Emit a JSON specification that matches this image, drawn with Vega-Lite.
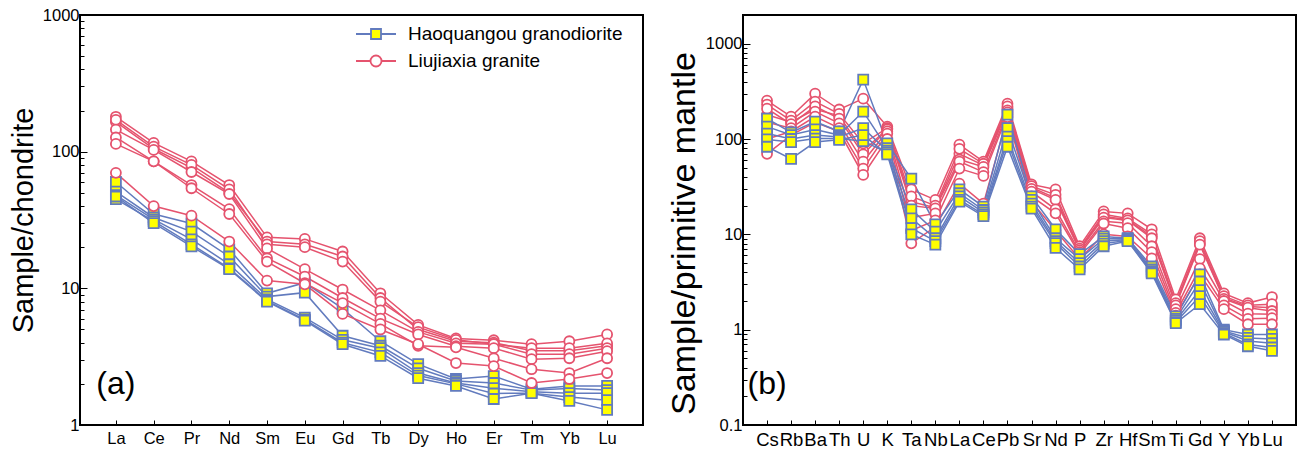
{
"$schema":"https://vega.github.io/schema/vega-lite/v6.json",
"background":"white",
"padding":{"left":8,"top":6,"right":6,"bottom":4},
"spacing":22,
"resolve":{"scale":{"fill":"independent","stroke":"independent","color":"independent","shape":"independent","x":"independent","y":"independent"},"legend":{"fill":"independent","stroke":"independent","color":"independent","shape":"independent"}},
"config":{"font":"Liberation Sans","view":{"stroke":"black","strokeWidth":2},
"axis":{"grid":false,"domain":false,"tickColor":"black","labelColor":"black","titleColor":"black","titleFontWeight":"normal","labelOverlap":false,"labelBound":false,"labelFlush":false},
"legend":{"orient":"none","title":null,"padding":0,"labelFontSize":19,"labelLimit":400,"symbolSize":400,"symbolStrokeWidth":1.8,"labelOffset":21,"labelColor":"black"}},
"datasets":{
"a":[
{"s":"B1","g":"H","e":"La","v":60},{"s":"B1","g":"H","e":"Ce","v":35},{"s":"B1","g":"H","e":"Pr","v":29.8},{"s":"B1","g":"H","e":"Nd","v":19.3},{"s":"B1","g":"H","e":"Sm","v":9.2},{"s":"B1","g":"H","e":"Eu","v":11},{"s":"B1","g":"H","e":"Gd","v":7.1},{"s":"B1","g":"H","e":"Tb","v":4.1},{"s":"B1","g":"H","e":"Dy","v":2.79},{"s":"B1","g":"H","e":"Ho","v":2.17},{"s":"B1","g":"H","e":"Er","v":2.28},{"s":"B1","g":"H","e":"Tm","v":1.83},{"s":"B1","g":"H","e":"Yb","v":1.93},{"s":"B1","g":"H","e":"Lu","v":1.93},
{"s":"B2","g":"H","e":"La","v":51},{"s":"B2","g":"H","e":"Ce","v":33},{"s":"B2","g":"H","e":"Pr","v":26},{"s":"B2","g":"H","e":"Nd","v":17.1},{"s":"B2","g":"H","e":"Sm","v":8.7},{"s":"B2","g":"H","e":"Eu","v":9.3},{"s":"B2","g":"H","e":"Gd","v":4.5},{"s":"B2","g":"H","e":"Tb","v":3.8},{"s":"B2","g":"H","e":"Dy","v":2.6},{"s":"B2","g":"H","e":"Ho","v":2.1},{"s":"B2","g":"H","e":"Er","v":2.03},{"s":"B2","g":"H","e":"Tm","v":1.8},{"s":"B2","g":"H","e":"Yb","v":1.85},{"s":"B2","g":"H","e":"Lu","v":1.8},
{"s":"B3","g":"H","e":"La","v":48},{"s":"B3","g":"H","e":"Ce","v":32},{"s":"B3","g":"H","e":"Pr","v":22.8},{"s":"B3","g":"H","e":"Nd","v":15},{"s":"B3","g":"H","e":"Sm","v":8.3},{"s":"B3","g":"H","e":"Eu","v":6.1},{"s":"B3","g":"H","e":"Gd","v":4.2},{"s":"B3","g":"H","e":"Tb","v":3.65},{"s":"B3","g":"H","e":"Dy","v":2.4},{"s":"B3","g":"H","e":"Ho","v":2.03},{"s":"B3","g":"H","e":"Er","v":1.86},{"s":"B3","g":"H","e":"Tm","v":1.75},{"s":"B3","g":"H","e":"Yb","v":1.71},{"s":"B3","g":"H","e":"Lu","v":1.71},
{"s":"B4","g":"H","e":"La","v":45},{"s":"B4","g":"H","e":"Ce","v":31},{"s":"B4","g":"H","e":"Pr","v":21},{"s":"B4","g":"H","e":"Nd","v":14},{"s":"B4","g":"H","e":"Sm","v":8.1},{"s":"B4","g":"H","e":"Eu","v":5.9},{"s":"B4","g":"H","e":"Gd","v":4.0},{"s":"B4","g":"H","e":"Tb","v":3.4},{"s":"B4","g":"H","e":"Dy","v":2.3},{"s":"B4","g":"H","e":"Ho","v":2.0},{"s":"B4","g":"H","e":"Er","v":1.7},{"s":"B4","g":"H","e":"Tm","v":1.71},{"s":"B4","g":"H","e":"Yb","v":1.6},{"s":"B4","g":"H","e":"Lu","v":1.52},
{"s":"B5","g":"H","e":"La","v":47},{"s":"B5","g":"H","e":"Ce","v":30},{"s":"B5","g":"H","e":"Pr","v":20.3},{"s":"B5","g":"H","e":"Nd","v":13.8},{"s":"B5","g":"H","e":"Sm","v":8.0},{"s":"B5","g":"H","e":"Eu","v":5.8},{"s":"B5","g":"H","e":"Gd","v":3.9},{"s":"B5","g":"H","e":"Tb","v":3.2},{"s":"B5","g":"H","e":"Dy","v":2.2},{"s":"B5","g":"H","e":"Ho","v":1.93},{"s":"B5","g":"H","e":"Er","v":1.55},{"s":"B5","g":"H","e":"Tm","v":1.71},{"s":"B5","g":"H","e":"Yb","v":1.5},{"s":"B5","g":"H","e":"Lu","v":1.29},
{"s":"R1","g":"L","e":"La","v":180},{"s":"R1","g":"L","e":"Ce","v":116},{"s":"R1","g":"L","e":"Pr","v":85},{"s":"R1","g":"L","e":"Nd","v":57},{"s":"R1","g":"L","e":"Sm","v":23.6},{"s":"R1","g":"L","e":"Eu","v":23},{"s":"R1","g":"L","e":"Gd","v":18.6},{"s":"R1","g":"L","e":"Tb","v":9.2},{"s":"R1","g":"L","e":"Dy","v":5.4},{"s":"R1","g":"L","e":"Ho","v":4.3},{"s":"R1","g":"L","e":"Er","v":4.17},{"s":"R1","g":"L","e":"Tm","v":3.9},{"s":"R1","g":"L","e":"Yb","v":4.1},{"s":"R1","g":"L","e":"Lu","v":4.6},
{"s":"R7","g":"L","e":"La","v":165},{"s":"R7","g":"L","e":"Ce","v":105},{"s":"R7","g":"L","e":"Pr","v":76},{"s":"R7","g":"L","e":"Nd","v":50},{"s":"R7","g":"L","e":"Sm","v":22},{"s":"R7","g":"L","e":"Eu","v":21},{"s":"R7","g":"L","e":"Gd","v":17.1},{"s":"R7","g":"L","e":"Tb","v":8.5},{"s":"R7","g":"L","e":"Dy","v":5.0},{"s":"R7","g":"L","e":"Ho","v":4.1},{"s":"R7","g":"L","e":"Er","v":4.0},{"s":"R7","g":"L","e":"Tm","v":3.5},{"s":"R7","g":"L","e":"Yb","v":3.5},{"s":"R7","g":"L","e":"Lu","v":3.8},
{"s":"R2","g":"L","e":"La","v":171},{"s":"R2","g":"L","e":"Ce","v":109},{"s":"R2","g":"L","e":"Pr","v":80},{"s":"R2","g":"L","e":"Nd","v":53},{"s":"R2","g":"L","e":"Sm","v":21},{"s":"R2","g":"L","e":"Eu","v":20},{"s":"R2","g":"L","e":"Gd","v":15.7},{"s":"R2","g":"L","e":"Tb","v":8.0},{"s":"R2","g":"L","e":"Dy","v":5.2},{"s":"R2","g":"L","e":"Ho","v":4.2},{"s":"R2","g":"L","e":"Er","v":3.9},{"s":"R2","g":"L","e":"Tm","v":3.65},{"s":"R2","g":"L","e":"Yb","v":3.65},{"s":"R2","g":"L","e":"Lu","v":3.96},
{"s":"R3","g":"L","e":"La","v":145},{"s":"R3","g":"L","e":"Ce","v":103},{"s":"R3","g":"L","e":"Pr","v":71},{"s":"R3","g":"L","e":"Nd","v":49},{"s":"R3","g":"L","e":"Sm","v":19.6},{"s":"R3","g":"L","e":"Eu","v":13.8},{"s":"R3","g":"L","e":"Gd","v":9.8},{"s":"R3","g":"L","e":"Tb","v":6.9},{"s":"R3","g":"L","e":"Dy","v":4.8},{"s":"R3","g":"L","e":"Ho","v":3.96},{"s":"R3","g":"L","e":"Er","v":3.9},{"s":"R3","g":"L","e":"Tm","v":3.3},{"s":"R3","g":"L","e":"Yb","v":3.3},{"s":"R3","g":"L","e":"Lu","v":3.65},
{"s":"R4","g":"L","e":"La","v":127},{"s":"R4","g":"L","e":"Ce","v":85},{"s":"R4","g":"L","e":"Pr","v":57},{"s":"R4","g":"L","e":"Nd","v":38},{"s":"R4","g":"L","e":"Sm","v":16.6},{"s":"R4","g":"L","e":"Eu","v":12.2},{"s":"R4","g":"L","e":"Gd","v":8.5},{"s":"R4","g":"L","e":"Tb","v":6.0},{"s":"R4","g":"L","e":"Dy","v":4.6},{"s":"R4","g":"L","e":"Ho","v":3.77},{"s":"R4","g":"L","e":"Er","v":3.65},{"s":"R4","g":"L","e":"Tm","v":3.03},{"s":"R4","g":"L","e":"Yb","v":3.08},{"s":"R4","g":"L","e":"Lu","v":3.47},
{"s":"R5","g":"L","e":"La","v":114},{"s":"R5","g":"L","e":"Ce","v":85},{"s":"R5","g":"L","e":"Pr","v":54},{"s":"R5","g":"L","e":"Nd","v":35},{"s":"R5","g":"L","e":"Sm","v":15.7},{"s":"R5","g":"L","e":"Eu","v":10.9},{"s":"R5","g":"L","e":"Gd","v":7.8},{"s":"R5","g":"L","e":"Tb","v":5.5},{"s":"R5","g":"L","e":"Dy","v":3.8},{"s":"R5","g":"L","e":"Ho","v":3.7},{"s":"R5","g":"L","e":"Er","v":3.08},{"s":"R5","g":"L","e":"Tm","v":2.56},{"s":"R5","g":"L","e":"Yb","v":2.4},{"s":"R5","g":"L","e":"Lu","v":3.08},
{"s":"R6","g":"L","e":"La","v":70},{"s":"R6","g":"L","e":"Ce","v":40},{"s":"R6","g":"L","e":"Pr","v":34},{"s":"R6","g":"L","e":"Nd","v":22},{"s":"R6","g":"L","e":"Sm","v":11.4},{"s":"R6","g":"L","e":"Eu","v":10.7},{"s":"R6","g":"L","e":"Gd","v":6.5},{"s":"R6","g":"L","e":"Tb","v":5.0},{"s":"R6","g":"L","e":"Dy","v":3.9},{"s":"R6","g":"L","e":"Ho","v":2.84},{"s":"R6","g":"L","e":"Er","v":2.7},{"s":"R6","g":"L","e":"Tm","v":2.03},{"s":"R6","g":"L","e":"Yb","v":2.17},{"s":"R6","g":"L","e":"Lu","v":2.4}
],
"b":[
{"s":"R1","g":"L","e":"Cs","v":253},{"s":"R1","g":"L","e":"Rb","v":172},{"s":"R1","g":"L","e":"Ba","v":299},{"s":"R1","g":"L","e":"Th","v":204},{"s":"R1","g":"L","e":"U","v":265},{"s":"R1","g":"L","e":"K","v":135},{"s":"R1","g":"L","e":"Ta","v":29.6},{"s":"R1","g":"L","e":"Nb","v":23},{"s":"R1","g":"L","e":"La","v":87.5},{"s":"R1","g":"L","e":"Ce","v":58},{"s":"R1","g":"L","e":"Pb","v":235},{"s":"R1","g":"L","e":"Sr","v":33.4},{"s":"R1","g":"L","e":"Nd","v":29.6},{"s":"R1","g":"L","e":"P","v":7.5},{"s":"R1","g":"L","e":"Zr","v":17.4},{"s":"R1","g":"L","e":"Hf","v":16.6},{"s":"R1","g":"L","e":"Sm","v":11.3},{"s":"R1","g":"L","e":"Ti","v":2.08},{"s":"R1","g":"L","e":"Gd","v":9.1},{"s":"R1","g":"L","e":"Y","v":2.4},{"s":"R1","g":"L","e":"Yb","v":1.9},{"s":"R1","g":"L","e":"Lu","v":2.2},
{"s":"R7","g":"L","e":"Cs","v":180},{"s":"R7","g":"L","e":"Rb","v":150},{"s":"R7","g":"L","e":"Ba","v":205},{"s":"R7","g":"L","e":"Th","v":175},{"s":"R7","g":"L","e":"U","v":75},{"s":"R7","g":"L","e":"K","v":128},{"s":"R7","g":"L","e":"Ta","v":22},{"s":"R7","g":"L","e":"Nb","v":19},{"s":"R7","g":"L","e":"La","v":70},{"s":"R7","g":"L","e":"Ce","v":53},{"s":"R7","g":"L","e":"Pb","v":210},{"s":"R7","g":"L","e":"Sr","v":31},{"s":"R7","g":"L","e":"Nd","v":24},{"s":"R7","g":"L","e":"P","v":7.0},{"s":"R7","g":"L","e":"Zr","v":15.5},{"s":"R7","g":"L","e":"Hf","v":14.2},{"s":"R7","g":"L","e":"Sm","v":9.5},{"s":"R7","g":"L","e":"Ti","v":1.85},{"s":"R7","g":"L","e":"Gd","v":8.0},{"s":"R7","g":"L","e":"Y","v":2.15},{"s":"R7","g":"L","e":"Yb","v":1.75},{"s":"R7","g":"L","e":"Lu","v":1.7},
{"s":"R2","g":"L","e":"Cs","v":230},{"s":"R2","g":"L","e":"Rb","v":156},{"s":"R2","g":"L","e":"Ba","v":247},{"s":"R2","g":"L","e":"Th","v":184},{"s":"R2","g":"L","e":"U","v":90},{"s":"R2","g":"L","e":"K","v":130},{"s":"R2","g":"L","e":"Ta","v":25},{"s":"R2","g":"L","e":"Nb","v":20},{"s":"R2","g":"L","e":"La","v":79},{"s":"R2","g":"L","e":"Ce","v":55},{"s":"R2","g":"L","e":"Pb","v":220},{"s":"R2","g":"L","e":"Sr","v":32},{"s":"R2","g":"L","e":"Nd","v":26},{"s":"R2","g":"L","e":"P","v":7.1},{"s":"R2","g":"L","e":"Zr","v":16.2},{"s":"R2","g":"L","e":"Hf","v":14.7},{"s":"R2","g":"L","e":"Sm","v":10},{"s":"R2","g":"L","e":"Ti","v":1.9},{"s":"R2","g":"L","e":"Gd","v":8.5},{"s":"R2","g":"L","e":"Y","v":2.25},{"s":"R2","g":"L","e":"Yb","v":1.8},{"s":"R2","g":"L","e":"Lu","v":1.85},
{"s":"R3","g":"L","e":"Cs","v":208},{"s":"R3","g":"L","e":"Rb","v":143},{"s":"R3","g":"L","e":"Ba","v":220},{"s":"R3","g":"L","e":"Th","v":164},{"s":"R3","g":"L","e":"U","v":69},{"s":"R3","g":"L","e":"K","v":126},{"s":"R3","g":"L","e":"Ta","v":20},{"s":"R3","g":"L","e":"Nb","v":18.7},{"s":"R3","g":"L","e":"La","v":61},{"s":"R3","g":"L","e":"Ce","v":51},{"s":"R3","g":"L","e":"Pb","v":200},{"s":"R3","g":"L","e":"Sr","v":30},{"s":"R3","g":"L","e":"Nd","v":23},{"s":"R3","g":"L","e":"P","v":6.8},{"s":"R3","g":"L","e":"Zr","v":15},{"s":"R3","g":"L","e":"Hf","v":14},{"s":"R3","g":"L","e":"Sm","v":9.1},{"s":"R3","g":"L","e":"Ti","v":1.8},{"s":"R3","g":"L","e":"Gd","v":7.8},{"s":"R3","g":"L","e":"Y","v":2.1},{"s":"R3","g":"L","e":"Yb","v":1.7},{"s":"R3","g":"L","e":"Lu","v":1.57},
{"s":"R4","g":"L","e":"Cs","v":150},{"s":"R4","g":"L","e":"Rb","v":130},{"s":"R4","g":"L","e":"Ba","v":194},{"s":"R4","g":"L","e":"Th","v":146},{"s":"R4","g":"L","e":"U","v":58},{"s":"R4","g":"L","e":"K","v":120},{"s":"R4","g":"L","e":"Ta","v":15},{"s":"R4","g":"L","e":"Nb","v":16.6},{"s":"R4","g":"L","e":"La","v":58},{"s":"R4","g":"L","e":"Ce","v":45},{"s":"R4","g":"L","e":"Pb","v":190},{"s":"R4","g":"L","e":"Sr","v":28},{"s":"R4","g":"L","e":"Nd","v":18.3},{"s":"R4","g":"L","e":"P","v":6.5},{"s":"R4","g":"L","e":"Zr","v":13.7},{"s":"R4","g":"L","e":"Hf","v":13.1},{"s":"R4","g":"L","e":"Sm","v":7.5},{"s":"R4","g":"L","e":"Ti","v":1.64},{"s":"R4","g":"L","e":"Gd","v":5.5},{"s":"R4","g":"L","e":"Y","v":2.0},{"s":"R4","g":"L","e":"Yb","v":1.47},{"s":"R4","g":"L","e":"Lu","v":1.45},
{"s":"R5","g":"L","e":"Cs","v":100},{"s":"R5","g":"L","e":"Rb","v":120},{"s":"R5","g":"L","e":"Ba","v":172},{"s":"R5","g":"L","e":"Th","v":130},{"s":"R5","g":"L","e":"U","v":49},{"s":"R5","g":"L","e":"K","v":114},{"s":"R5","g":"L","e":"Ta","v":11},{"s":"R5","g":"L","e":"Nb","v":14},{"s":"R5","g":"L","e":"La","v":49},{"s":"R5","g":"L","e":"Ce","v":41},{"s":"R5","g":"L","e":"Pb","v":180},{"s":"R5","g":"L","e":"Sr","v":25},{"s":"R5","g":"L","e":"Nd","v":16.6},{"s":"R5","g":"L","e":"P","v":6.2},{"s":"R5","g":"L","e":"Zr","v":13},{"s":"R5","g":"L","e":"Hf","v":11.6},{"s":"R5","g":"L","e":"Sm","v":6.5},{"s":"R5","g":"L","e":"Ti","v":1.5},{"s":"R5","g":"L","e":"Gd","v":4.4},{"s":"R5","g":"L","e":"Y","v":1.8},{"s":"R5","g":"L","e":"Yb","v":1.3},{"s":"R5","g":"L","e":"Lu","v":1.32},
{"s":"R6","g":"L","e":"Cs","v":70},{"s":"R6","g":"L","e":"Rb","v":110},{"s":"R6","g":"L","e":"Ba","v":150},{"s":"R6","g":"L","e":"Th","v":120},{"s":"R6","g":"L","e":"U","v":42},{"s":"R6","g":"L","e":"K","v":100},{"s":"R6","g":"L","e":"Ta","v":8.05},{"s":"R6","g":"L","e":"Nb","v":12},{"s":"R6","g":"L","e":"La","v":34},{"s":"R6","g":"L","e":"Ce","v":21},{"s":"R6","g":"L","e":"Pb","v":170},{"s":"R6","g":"L","e":"Sr","v":22},{"s":"R6","g":"L","e":"Nd","v":11},{"s":"R6","g":"L","e":"P","v":5.5},{"s":"R6","g":"L","e":"Zr","v":10},{"s":"R6","g":"L","e":"Hf","v":9.5},{"s":"R6","g":"L","e":"Sm","v":5.6},{"s":"R6","g":"L","e":"Ti","v":1.4},{"s":"R6","g":"L","e":"Gd","v":3.8},{"s":"R6","g":"L","e":"Y","v":1.64},{"s":"R6","g":"L","e":"Yb","v":1.14},{"s":"R6","g":"L","e":"Lu","v":1.14},
{"s":"B1","g":"H","e":"Cs","v":164},{"s":"B1","g":"H","e":"Rb","v":117},{"s":"B1","g":"H","e":"Ba","v":152},{"s":"B1","g":"H","e":"Th","v":120},{"s":"B1","g":"H","e":"U","v":420},{"s":"B1","g":"H","e":"K","v":90},{"s":"B1","g":"H","e":"Ta","v":38.5},{"s":"B1","g":"H","e":"Nb","v":12.7},{"s":"B1","g":"H","e":"La","v":29.6},{"s":"B1","g":"H","e":"Ce","v":19.5},{"s":"B1","g":"H","e":"Pb","v":180},{"s":"B1","g":"H","e":"Sr","v":25},{"s":"B1","g":"H","e":"Nd","v":11.3},{"s":"B1","g":"H","e":"P","v":6.2},{"s":"B1","g":"H","e":"Zr","v":9.5},{"s":"B1","g":"H","e":"Hf","v":9.1},{"s":"B1","g":"H","e":"Sm","v":4.6},{"s":"B1","g":"H","e":"Ti","v":1.38},{"s":"B1","g":"H","e":"Gd","v":3.8},{"s":"B1","g":"H","e":"Y","v":1.0},{"s":"B1","g":"H","e":"Yb","v":0.89},{"s":"B1","g":"H","e":"Lu","v":0.89},
{"s":"B2","g":"H","e":"Cs","v":135},{"s":"B2","g":"H","e":"Rb","v":110},{"s":"B2","g":"H","e":"Ba","v":126},{"s":"B2","g":"H","e":"Th","v":110},{"s":"B2","g":"H","e":"U","v":194},{"s":"B2","g":"H","e":"K","v":80},{"s":"B2","g":"H","e":"Ta","v":18.3},{"s":"B2","g":"H","e":"Nb","v":10.7},{"s":"B2","g":"H","e":"La","v":27},{"s":"B2","g":"H","e":"Ce","v":18},{"s":"B2","g":"H","e":"Pb","v":130},{"s":"B2","g":"H","e":"Sr","v":23},{"s":"B2","g":"H","e":"Nd","v":9.1},{"s":"B2","g":"H","e":"P","v":5.5},{"s":"B2","g":"H","e":"Zr","v":9.0},{"s":"B2","g":"H","e":"Hf","v":9.0},{"s":"B2","g":"H","e":"Sm","v":4.3},{"s":"B2","g":"H","e":"Ti","v":1.3},{"s":"B2","g":"H","e":"Gd","v":3.2},{"s":"B2","g":"H","e":"Y","v":0.97},{"s":"B2","g":"H","e":"Yb","v":0.82},{"s":"B2","g":"H","e":"Lu","v":0.8},
{"s":"B3","g":"H","e":"Cs","v":114},{"s":"B3","g":"H","e":"Rb","v":100},{"s":"B3","g":"H","e":"Ba","v":110},{"s":"B3","g":"H","e":"Th","v":105},{"s":"B3","g":"H","e":"U","v":130},{"s":"B3","g":"H","e":"K","v":75},{"s":"B3","g":"H","e":"Ta","v":14.7},{"s":"B3","g":"H","e":"Nb","v":9.1},{"s":"B3","g":"H","e":"La","v":25},{"s":"B3","g":"H","e":"Ce","v":17},{"s":"B3","g":"H","e":"Pb","v":106},{"s":"B3","g":"H","e":"Sr","v":21},{"s":"B3","g":"H","e":"Nd","v":8.5},{"s":"B3","g":"H","e":"P","v":5.0},{"s":"B3","g":"H","e":"Zr","v":8.5},{"s":"B3","g":"H","e":"Hf","v":8.8},{"s":"B3","g":"H","e":"Sm","v":4.1},{"s":"B3","g":"H","e":"Ti","v":1.25},{"s":"B3","g":"H","e":"Gd","v":2.6},{"s":"B3","g":"H","e":"Y","v":0.95},{"s":"B3","g":"H","e":"Yb","v":0.76},{"s":"B3","g":"H","e":"Lu","v":0.72},
{"s":"B4","g":"H","e":"Cs","v":99},{"s":"B4","g":"H","e":"Rb","v":93},{"s":"B4","g":"H","e":"Ba","v":101},{"s":"B4","g":"H","e":"Th","v":101},{"s":"B4","g":"H","e":"U","v":95},{"s":"B4","g":"H","e":"K","v":72},{"s":"B4","g":"H","e":"Ta","v":11.6},{"s":"B4","g":"H","e":"Nb","v":8.5},{"s":"B4","g":"H","e":"La","v":23},{"s":"B4","g":"H","e":"Ce","v":16.2},{"s":"B4","g":"H","e":"Pb","v":95},{"s":"B4","g":"H","e":"Sr","v":19.5},{"s":"B4","g":"H","e":"Nd","v":8.1},{"s":"B4","g":"H","e":"P","v":4.6},{"s":"B4","g":"H","e":"Zr","v":8.0},{"s":"B4","g":"H","e":"Hf","v":8.6},{"s":"B4","g":"H","e":"Sm","v":4.0},{"s":"B4","g":"H","e":"Ti","v":1.2},{"s":"B4","g":"H","e":"Gd","v":2.25},{"s":"B4","g":"H","e":"Y","v":0.92},{"s":"B4","g":"H","e":"Yb","v":0.7},{"s":"B4","g":"H","e":"Lu","v":0.65},
{"s":"B5","g":"H","e":"Cs","v":83},{"s":"B5","g":"H","e":"Rb","v":62},{"s":"B5","g":"H","e":"Ba","v":93},{"s":"B5","g":"H","e":"Th","v":98},{"s":"B5","g":"H","e":"U","v":110},{"s":"B5","g":"H","e":"K","v":69},{"s":"B5","g":"H","e":"Ta","v":10},{"s":"B5","g":"H","e":"Nb","v":7.8},{"s":"B5","g":"H","e":"La","v":22},{"s":"B5","g":"H","e":"Ce","v":15.5},{"s":"B5","g":"H","e":"Pb","v":83},{"s":"B5","g":"H","e":"Sr","v":18.6},{"s":"B5","g":"H","e":"Nd","v":7.2},{"s":"B5","g":"H","e":"P","v":4.3},{"s":"B5","g":"H","e":"Zr","v":7.5},{"s":"B5","g":"H","e":"Hf","v":8.5},{"s":"B5","g":"H","e":"Sm","v":3.9},{"s":"B5","g":"H","e":"Ti","v":1.17},{"s":"B5","g":"H","e":"Gd","v":1.85},{"s":"B5","g":"H","e":"Y","v":0.89},{"s":"B5","g":"H","e":"Yb","v":0.67},{"s":"B5","g":"H","e":"Lu","v":0.6}
]},
"hconcat":[
{"width":563,"height":410,
"encoding":{
"x":{"field":"e","type":"ordinal","scale":{"type":"point","domain":["La","Ce","Pr","Nd","Sm","Eu","Gd","Tb","Dy","Ho","Er","Tm","Yb","Lu"],"padding":0.95},"axis":{"title":null,"labelAngle":0,"labelFontSize":16.5,"tickSize":-5,"labelPadding":10}},
"y":{"field":"v","type":"quantitative","scale":{"type":"log","domain":[1,1000],"nice":false},"axis":{"title":"Sample/chondrite","titleFontSize":29,"titlePadding":4,"labelFontSize":16.5,"labelPadding":8,"values":[1,2,3,4,5,6,7,8,9,10,20,30,40,50,60,70,80,90,100,200,300,400,500,600,700,800,900,1000],"labelExpr":"(datum.value==1||datum.value==10||datum.value==100||datum.value==1000)?format(datum.value,'~g'):''","tickSize":{"condition":{"test":"datum.value==1||datum.value==10||datum.value==100||datum.value==1000","value":-7},"value":-4}}}
},
"layer":[
{"data":{"name":"a"},"mark":{"type":"line","strokeWidth":1.5},"encoding":{"detail":{"field":"s"},"order":{"value":null},"color":{"field":"g","type":"nominal","scale":{"domain":["H","L"],"range":["#627BBE","#E5536E"]},"legend":null}}},
{"data":{"name":"a"},"transform":[{"filter":"datum.g=='H'"}],"mark":{"type":"point","shape":"square","filled":true,"strokeWidth":1.8,"size":100,"opacity":1,"stroke":"#627BBE"},"encoding":{
"fill":{"datum":"Haoquangou granodiorite","type":"nominal","scale":{"domain":["Haoquangou granodiorite"],"range":["#FFFF00"]},"legend":{"legendX":285,"legendY":8,"symbolType":"M-2,0H-0.5M0.5,0H2M-0.5,-0.5H0.5V0.5H-0.5Z","symbolStrokeColor":"#627BBE","symbolFillColor":"#FFFF00"}}
}},
{"data":{"name":"a"},"transform":[{"filter":"datum.g=='L'"}],"mark":{"type":"point","shape":"circle","filled":true,"strokeWidth":1.8,"size":100,"opacity":1,"fill":"#FFFFFF"},"encoding":{
"stroke":{"datum":"Liujiaxia granite","type":"nominal","scale":{"domain":["Liujiaxia granite"],"range":["#E5536E"]},"legend":{"legendX":285,"legendY":35,"symbolType":"M-2,0H-0.55M0.55,0H2M0.55,0A0.55,0.55,0,1,1,-0.55,0A0.55,0.55,0,1,1,0.55,0Z","symbolFillColor":"#FFFFFF","symbolStrokeColor":"#E5536E"}}
}},
{"data":{"values":[{"t":"(a)","e":"La","v":2}]},"mark":{"type":"text","fontSize":32,"align":"center","baseline":"middle"},"encoding":{"text":{"field":"t"}}}
]},
{"width":553,"height":410,
"encoding":{
"x":{"field":"e","type":"ordinal","scale":{"type":"point","domain":["Cs","Rb","Ba","Th","U","K","Ta","Nb","La","Ce","Pb","Sr","Nd","P","Zr","Hf","Sm","Ti","Gd","Y","Yb","Lu"],"padding":1.0},"axis":{"title":null,"labelAngle":0,"labelFontSize":18.5,"tickSize":-5,"labelPadding":10}},
"y":{"field":"v","type":"quantitative","scale":{"type":"log","domain":[0.1,2000],"nice":false},"axis":{"title":"Sample/primitive mantle","titleFontSize":34,"titlePadding":4,"titleY":218,"labelFontSize":16.5,"labelPadding":8,"values":[0.1,0.2,0.3,0.4,0.5,0.6,0.7,0.8,0.9,1,2,3,4,5,6,7,8,9,10,20,30,40,50,60,70,80,90,100,200,300,400,500,600,700,800,900,1000],"labelExpr":"(datum.value==0.1||datum.value==1||datum.value==10||datum.value==100||datum.value==1000)?format(datum.value,'~g'):''","tickSize":{"condition":{"test":"datum.value==0.1||datum.value==1||datum.value==10||datum.value==100||datum.value==1000","value":-7},"value":-4}}}
},
"layer":[
{"data":{"name":"b"},"mark":{"type":"line","strokeWidth":1.5},"encoding":{"detail":{"field":"s"},"order":{"value":null},"color":{"field":"g","type":"nominal","scale":{"domain":["H","L"],"range":["#627BBE","#E5536E"]},"legend":null}}},
{"data":{"name":"b"},"transform":[{"filter":"datum.g=='L'"}],"mark":{"type":"point","shape":"circle","filled":true,"strokeWidth":1.8,"size":100,"opacity":1,"fill":"#FFFFFF","stroke":"#E5536E"},"encoding":{}},
{"data":{"name":"b"},"transform":[{"filter":"datum.g=='H'"}],"mark":{"type":"point","shape":"square","filled":true,"strokeWidth":1.8,"size":100,"opacity":1,"fill":"#FFFF00","stroke":"#627BBE"},"encoding":{}},
{"data":{"values":[{"t":"(b)","e":"Cs","v":0.27}]},"mark":{"type":"text","fontSize":32,"align":"center","baseline":"middle"},"encoding":{"text":{"field":"t"}}}
]}
]
}
